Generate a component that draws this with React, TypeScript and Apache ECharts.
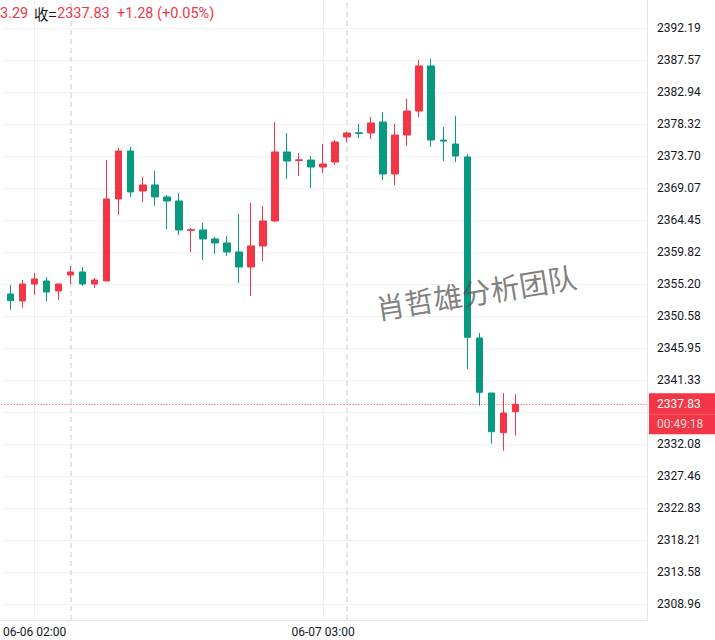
import React, { useEffect, useRef } from 'react';
import * as echarts from 'echarts';

const times = [
  '06-06 00:00', '06-06 01:00', '06-06 02:00', '06-06 03:00', '06-06 04:00', '06-06 06:00',
  '06-06 07:00', '06-06 08:00', '06-06 09:00', '06-06 10:00', '06-06 11:00', '06-06 12:00',
  '06-06 13:00', '06-06 14:00', '06-06 15:00', '06-06 16:00', '06-06 17:00', '06-06 18:00',
  '06-06 19:00', '06-06 20:00', '06-06 21:00', '06-06 22:00', '06-06 23:00', '06-07 00:00',
  '06-07 01:00', '06-07 02:00', '06-07 03:00', '06-07 04:00', '06-07 06:00', '06-07 07:00',
  '06-07 08:00', '06-07 09:00', '06-07 10:00', '06-07 11:00', '06-07 12:00', '06-07 13:00',
  '06-07 14:00', '06-07 15:00', '06-07 16:00', '06-07 17:00', '06-07 18:00', '06-07 19:00',
  '06-07 20:00',
];

const opens = [
  2353.76, 2352.75, 2355.20, 2355.64, 2354.19, 2356.50, 2356.94, 2355.20, 2355.64, 2367.49,
  2374.42, 2368.64, 2369.51, 2367.78, 2367.20, 2362.95, 2363.01, 2361.71, 2361.13, 2359.83,
  2357.66, 2360.70, 2364.31, 2374.28, 2373.05, 2373.12, 2372.11, 2372.83, 2376.45, 2377.05,
  2377.02, 2378.61, 2371.10, 2376.73, 2380.20, 2386.71, 2376.00, 2375.43, 2373.56, 2347.40,
  2339.45, 2333.72, 2336.75,
];
const closes = [
  2352.79, 2355.20, 2355.93, 2354.05, 2355.20, 2356.94, 2355.20, 2355.78, 2367.49, 2374.42,
  2368.50, 2369.51, 2367.78, 2367.20, 2363.01, 2363.05, 2361.71, 2361.13, 2359.83, 2357.66,
  2360.70, 2364.31, 2374.28, 2372.98, 2373.15, 2372.11, 2372.54, 2375.72, 2377.02, 2376.95,
  2378.47, 2371.10, 2376.73, 2380.20, 2386.71, 2376.01, 2375.85, 2373.70, 2347.50, 2339.55,
  2333.86, 2336.56, 2337.83,
];
const lows = [
  2351.45, 2351.78, 2353.61, 2352.75, 2352.89, 2355.20, 2354.92, 2354.63, 2355.64, 2365.17,
  2367.78, 2367.05, 2366.48, 2363.15, 2362.28, 2359.83, 2358.67, 2359.54, 2359.25, 2355.35,
  2353.47, 2358.53, 2364.16, 2370.38, 2370.81, 2369.08, 2371.24, 2372.40, 2375.72, 2376.30,
  2376.16, 2370.23, 2369.51, 2375.15, 2379.34, 2375.00, 2372.98, 2372.83, 2342.92, 2337.62,
  2332.13, 2331.12, 2333.29,
];
const highs = [
  2355.06, 2355.78, 2356.79, 2356.22, 2355.25, 2357.81, 2357.66, 2356.07, 2373.12, 2374.86,
  2375.04, 2370.67, 2371.53, 2368.06, 2368.35, 2363.30, 2364.02, 2362.00, 2362.14, 2365.32,
  2366.91, 2366.48, 2378.61, 2377.02, 2374.13, 2373.70, 2375.43, 2376.01, 2377.17, 2378.32,
  2379.34, 2380.06, 2378.32, 2381.94, 2387.57, 2387.72, 2377.89, 2379.48, 2373.99, 2348.12,
  2339.45, 2339.45, 2339.30,
];

const yTickValues = [
  2308.96, 2313.58, 2318.21, 2322.83, 2327.46, 2332.08, 2336.71, 2341.33, 2345.95, 2350.58,
  2355.20, 2359.82, 2364.45, 2369.07, 2373.70, 2378.32, 2382.94, 2387.57, 2392.19,
];
const yLabelValues = [
  2308.96, 2313.58, 2318.21, 2322.83, 2327.46, 2332.08, 2341.33, 2345.95, 2350.58,
  2355.20, 2359.82, 2364.45, 2369.07, 2373.70, 2378.32, 2382.94, 2387.57, 2392.19,
];
const xLabelIndex = [2, 26];
const sessionStartIndex = [5, 28];
const lastPrice = 2337.83;
const countdown = '00:49:18';
const headerLowTail = '3.29';
const headerCloseLabel = '收=';
const headerClose = '2337.83';
const headerChange = '+1.28 (+0.05%)';
const watermark = '肖哲雄分析团队';

const UP = '#F23645';
const DOWN = '#089981';
const TEXT = '#131722';
const FONT = 'Roboto, "Noto Sans", "Noto Sans CJK SC", sans-serif';
const HEAD = 14.5;

export default function App() {
  const ref = useRef<HTMLDivElement>(null);
  useEffect(() => {
    const chart = echarts.init(ref.current as HTMLDivElement, null, { renderer: 'svg' });
    const data = opens.map((o, i) => [i, o, closes[i], lows[i], highs[i]]);
    chart.setOption({
      animation: false,
      backgroundColor: '#ffffff',
      grid: { left: 0, right: 68, top: 0, bottom: 20 },
      xAxis: {
        type: 'value',
        min: -0.747,
        max: 52.95,
        axisLine: { show: true, onZero: false, lineStyle: { color: '#e4e4ec', width: 1 } },
        axisTick: { show: false, customValues: xLabelIndex },
        splitLine: { show: true, lineStyle: { color: '#efeff4', width: 1 } },
        axisLabel: {
          customValues: xLabelIndex,
          formatter: (v: number) => times[Math.round(v)],
          color: TEXT,
          fontSize: 12,
          margin: 6,
          fontFamily: FONT,
        },
      },
      yAxis: {
        type: 'value',
        position: 'right',
        min: 2306.65,
        max: 2396.24,
        axisLine: { show: true, onZero: false, lineStyle: { color: '#e4e4ec', width: 1 } },
        axisTick: { show: false, customValues: yTickValues },
        splitLine: { show: true, lineStyle: { color: '#f0f0f4', width: 1 } },
        axisLabel: {
          customValues: yLabelValues,
          formatter: (v: number) => v.toFixed(2),
          color: TEXT,
          fontSize: 12,
          margin: 10,
          fontFamily: FONT,
        },
      },
      series: [
        {
          type: 'candlestick',
          data,
          barWidth: 7,
          clip: false,
          itemStyle: {
            color: UP,
            color0: DOWN,
            borderColor: UP,
            borderColor0: DOWN,
            borderWidth: 1,
          },
          markLine: {
            silent: true,
            symbol: 'none',
            z: 1,
            label: { show: false },
            emphasis: { disabled: true },
            data: [
              ...sessionStartIndex.map((i) => ({
                xAxis: i,
                lineStyle: { color: '#e3e3ea', width: 2, type: [5, 4] },
              })),
              { yAxis: lastPrice, lineStyle: { color: UP, width: 1, type: [1, 2] } },
            ],
          },
        },
      ],
    });

    const yPix = chart.convertToPixel({ yAxisIndex: 0 }, lastPrice) as number;
    const gridRight = chart.getWidth() - 68;
    chart.setOption({
      graphic: [
        {
          type: 'text', x: 0, y: 13, z: 100,
          style: { text: headerLowTail, fill: UP, fontSize: HEAD, fontFamily: FONT, verticalAlign: 'middle', textVerticalAlign: 'middle' },
        },
        {
          type: 'text', x: 34, y: 13, z: 100,
          style: { text: headerCloseLabel, fill: TEXT, fontSize: HEAD, fontFamily: '"Noto Sans CJK SC", sans-serif', verticalAlign: 'middle', textVerticalAlign: 'middle' },
        },
        {
          type: 'text', x: 57, y: 13, z: 100,
          style: { text: headerClose, fill: UP, fontSize: HEAD, fontFamily: FONT, verticalAlign: 'middle', textVerticalAlign: 'middle' },
        },
        {
          type: 'text', x: 117, y: 13, z: 100,
          style: { text: headerChange, fill: UP, fontSize: HEAD, fontFamily: FONT, verticalAlign: 'middle', textVerticalAlign: 'middle' },
        },
        {
          type: 'text', x: 476, y: 291, rotation: 0.16, z: 100,
          style: {
            text: watermark, fill: 'rgba(80,80,80,0.72)', fontSize: 29,
            fontFamily: '"Noto Sans CJK SC", sans-serif',
            align: 'center', verticalAlign: 'middle', textAlign: 'center', textVerticalAlign: 'middle',
          },
        },
        {
          type: 'rect', z: 100,
          shape: { x: gridRight + 2, y: yPix - 11, width: 70, height: 41 },
          style: { fill: UP },
        },
        {
          type: 'line', z: 101,
          shape: { x1: gridRight + 2, y1: yPix + 10, x2: 715, y2: yPix + 10 },
          style: { stroke: 'rgba(255,255,255,0.18)', lineWidth: 1 },
        },
        {
          type: 'text', x: gridRight + 10, y: yPix, z: 102,
          style: { text: lastPrice.toFixed(2), fill: '#ffffff', fontSize: 12, fontFamily: FONT, verticalAlign: 'middle', textVerticalAlign: 'middle' },
        },
        {
          type: 'text', x: gridRight + 10, y: yPix + 19.5, z: 102,
          style: { text: countdown, fill: 'rgba(255,255,255,0.82)', fontSize: 12, fontFamily: FONT, verticalAlign: 'middle', textVerticalAlign: 'middle' },
        },
      ],
    });

    return () => chart.dispose();
  }, []);

  return (
    <div
      ref={ref}
      style={{ position: 'fixed', left: 0, top: 0, width: 715, height: 640, background: '#fff' }}
    />
  );
}
